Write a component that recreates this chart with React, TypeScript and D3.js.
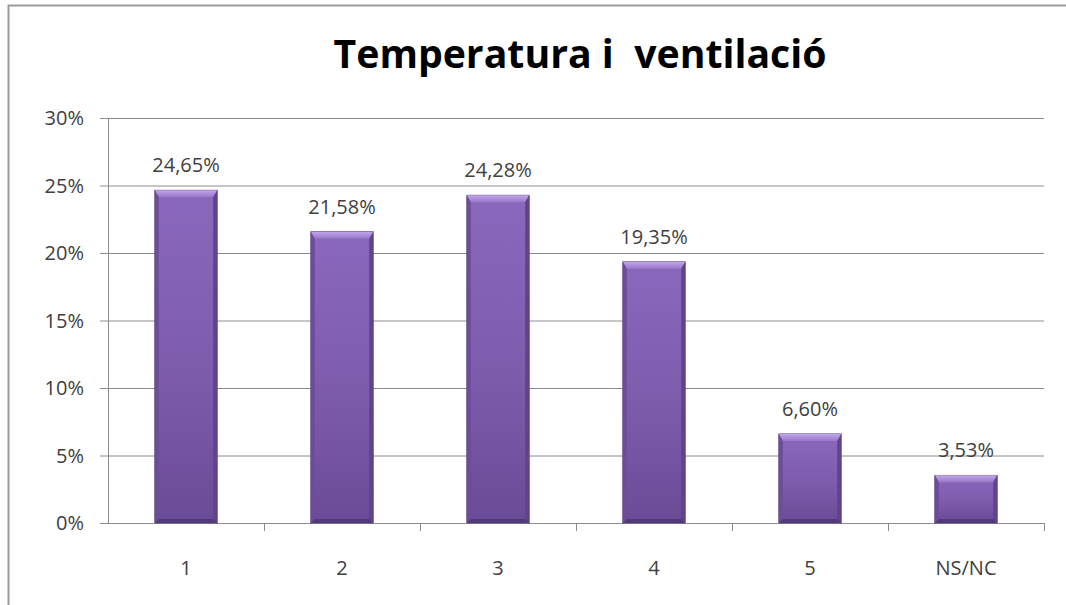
import React from "react";
import * as d3 from "d3";

const title = "Temperatura i  ventilació";
const categories = ["1", "2", "3", "4", "5", "NS/NC"];
const values = [24.65, 21.58, 24.28, 19.35, 6.6, 3.53];
const valueLabels = ["24,65%", "21,58%", "24,28%", "19,35%", "6,60%", "3,53%"];
const yTicks = [0, 5, 10, 15, 20, 25, 30];

const W = 1066;
const H = 605;
const left = 108;
const right = 1044;
const top = 118;
const bottom = 523;
const font = "'Open Sans', 'Liberation Sans', sans-serif";

export default function App() {
  const x = d3.scaleBand<string>().domain(categories).range([left, right]).padding(0);
  const y = d3.scaleLinear().domain([0, 30]).range([bottom, top]);
  const bw = x.bandwidth() * 0.4;
  const bev = 7;
  const side = 4;

  return (
    <svg width={W} height={H} style={{ position: "absolute", left: 0, top: 0, background: "#fff" }}>
      <defs>
        <linearGradient id="face" x1="0" y1="0" x2="0" y2="1">
          <stop offset="0%" stopColor="#8a68bd" />
          <stop offset="50%" stopColor="#7e5daf" />
          <stop offset="100%" stopColor="#6a4b97" />
        </linearGradient>
        <linearGradient id="bevtop" x1="0" y1="0" x2="0" y2="1">
          <stop offset="0%" stopColor="#c2a6ec" />
          <stop offset="100%" stopColor="#9678c6" />
        </linearGradient>
      </defs>
      <rect x={8.5} y={5.5} width={W + 10} height={H + 10} fill="#fff" stroke="#9a9a9a" strokeWidth={2} />
      <text x={580} y={68} textAnchor="middle" fontFamily={font} fontWeight="bold" fontSize={40} fill="#000" textLength={493} lengthAdjust="spacingAndGlyphs" style={{ whiteSpace: "pre" }}>
        {title}
      </text>
      {yTicks.map((t) => (
        <g key={t}>
          <line x1={left} x2={right} y1={y(t) + 0.5} y2={y(t) + 0.5} stroke="#8c8c8c" strokeWidth={1} />
          <line x1={left - 8} x2={left} y1={y(t) + 0.5} y2={y(t) + 0.5} stroke="#8c8c8c" strokeWidth={1} />
          <text x={84} y={y(t)} dy="0.35em" textAnchor="end" fontFamily={font} fontSize={20} fill="#404040">
            {t + "%"}
          </text>
        </g>
      ))}
      <line x1={left + 0.5} x2={left + 0.5} y1={top} y2={bottom} stroke="#8c8c8c" strokeWidth={1} />
      {categories.map((c, i) => (
        <line key={"xt" + i} x1={(x(c) as number) + x.bandwidth() + 0.5} x2={(x(c) as number) + x.bandwidth() + 0.5} y1={bottom} y2={bottom + 8} stroke="#8c8c8c" strokeWidth={1} />
      ))}
      {categories.map((c, i) => {
        const cx = (x(c) as number) + x.bandwidth() / 2;
        const x0 = cx - bw / 2;
        const x1 = cx + bw / 2;
        const y0 = y(values[i]);
        const y1 = y(0);
        return (
          <g key={c}>
            <rect x={x0} y={y0} width={bw} height={y1 - y0} fill="url(#face)" stroke="#5a4080" strokeWidth={0.8} />
            <polygon points={`${x0},${y0} ${x1},${y0} ${x1 - side},${y0 + bev} ${x0 + side},${y0 + bev}`} fill="url(#bevtop)" />
            <polygon points={`${x0},${y0} ${x0 + side},${y0 + bev} ${x0 + side},${y1 - side} ${x0},${y1}`} fill="#6c4d99" />
            <polygon points={`${x1},${y0} ${x1 - side},${y0 + bev} ${x1 - side},${y1 - side} ${x1},${y1}`} fill="#5f4488" />
            <polygon points={`${x0},${y1} ${x0 + side},${y1 - side} ${x1 - side},${y1 - side} ${x1},${y1}`} fill="#54397a" />
            <text x={cx} y={y0 - 18} textAnchor="middle" fontFamily={font} fontSize={20} fill="#404040">
              {valueLabels[i]}
            </text>
            <text x={cx} y={575} textAnchor="middle" fontFamily={font} fontSize={20} fill="#404040">
              {c}
            </text>
          </g>
        );
      })}
    </svg>
  );
}
